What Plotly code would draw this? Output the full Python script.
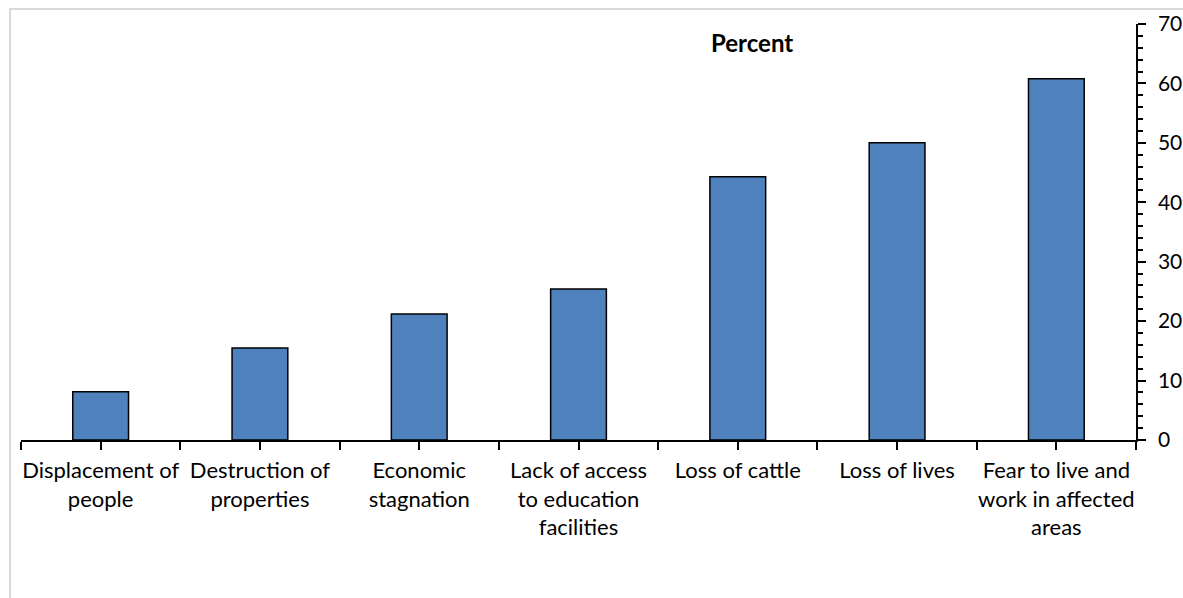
import plotly.graph_objects as go

categories = [
    "Displacement of<br>people",
    "Destruction of<br>properties",
    "Economic<br>stagnation",
    "Lack of access<br>to education<br>facilities",
    "Loss of cattle",
    "Loss of lives",
    "Fear to live and<br>work in affected<br>areas",
]
percent = [8.1, 15.5, 21.2, 25.4, 44.3, 50.0, 60.8]
y_ticks = [0, 10, 20, 30, 40, 50, 60, 70]

xpos = list(range(len(categories)))

W, H = 1183, 598
L, R, T, B = 21, 47, 24, 158
pw, ph = W - L - R, H - T - B

fig = go.Figure()
fig.add_trace(go.Bar(
    x=xpos, y=percent, width=0.35,
    marker=dict(color="#4F81BD", line=dict(color="black", width=1.5)),
    hoverinfo="y",
))

fig.update_layout(
    width=W, height=H,
    margin=dict(l=L, r=R, t=T, b=B, pad=0, autoexpand=False),
    paper_bgcolor="white", plot_bgcolor="white",
    showlegend=False,
    font=dict(family="Lato, Carlito, Calibri, sans-serif", size=22, color="black"),
    xaxis=dict(
        range=[-0.5, len(categories) - 0.5],
        tickmode="array", tickvals=xpos, ticktext=categories,
        ticks="outside", ticklen=8, tickwidth=1.5, tickcolor="black",
        minor=dict(tickmode="array",
                   tickvals=[i - 0.5 for i in range(len(categories) + 1)],
                   ticks="outside", ticklen=8, tickwidth=1.5, tickcolor="black"),
        showline=True, linecolor="black", linewidth=1.5,
        showgrid=False, zeroline=False, fixedrange=True,
        tickangle=0, tickfont=dict(size=22), automargin=False,
        ticklabelstandoff=2,
    ),
    yaxis=dict(
        side="right", range=[0, 70],
        tickmode="array", tickvals=y_ticks,
        ticks="outside", ticklen=8, tickwidth=1.5, tickcolor="black",
        minor=dict(dtick=2, ticks="outside", ticklen=5, tickwidth=1.5, tickcolor="black"),
        showline=True, linecolor="black", linewidth=1.5,
        showgrid=False, zeroline=False,
        tickfont=dict(size=21), ticklabelstandoff=8, automargin=False,
    ),
    shapes=[dict(
        type="rect", xref="paper", yref="paper",
        x0=(10 - L) / pw, x1=(W + 20 - L) / pw,
        y0=-(H + 20 - T - ph) / ph, y1=(H - 9 - B) / ph,
        line=dict(color="#D9D9D9", width=2), fillcolor="rgba(0,0,0,0)", layer="below",
    )],
    annotations=[dict(
        text="<b>Percent</b>", xref="paper", yref="paper",
        x=(752 - L) / pw, y=(H - 43 - B) / ph, showarrow=False,
        font=dict(size=24), xanchor="center", yanchor="middle",
    )],
)

fig.write_html("out.html")
